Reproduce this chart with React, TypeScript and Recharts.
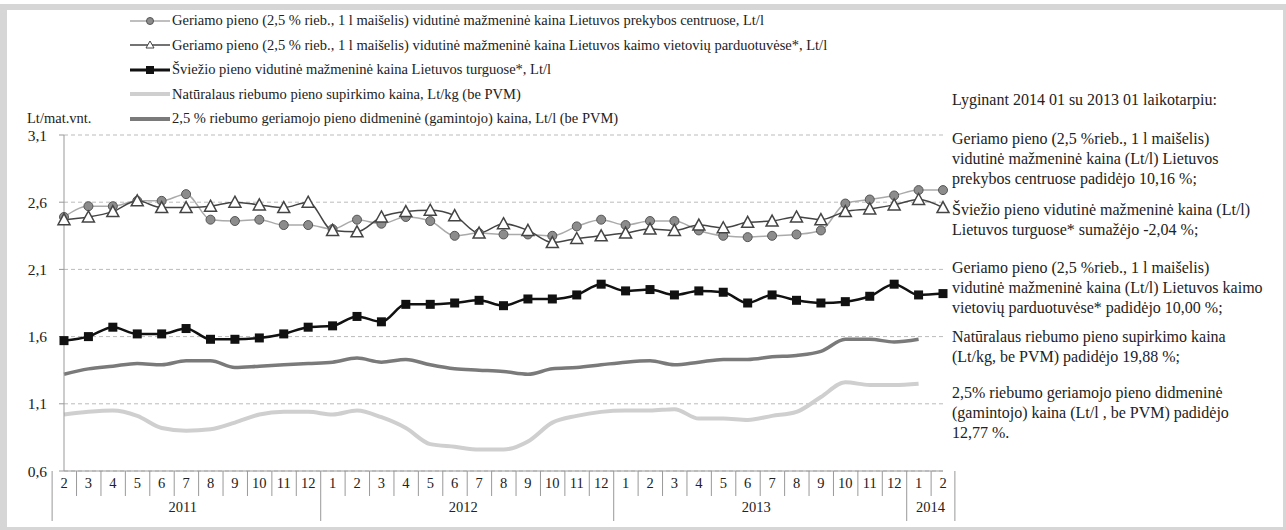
import { CartesianGrid, Line, LineChart, XAxis, YAxis } from "recharts";

// months 2011-02 .. 2014-02
const MONTHS = [2, 3, 4, 5, 6, 7, 8, 9, 10, 11, 12, 1, 2, 3, 4, 5, 6, 7, 8, 9, 10, 11, 12, 1, 2, 3, 4, 5, 6, 7, 8, 9, 10, 11, 12, 1, 2];
const YEARS = ["2011", "2012", "2013", "2014"];
const YEAR_SPANS = [11, 12, 12, 2];

const prekybos = [2.49, 2.57, 2.57, 2.61, 2.61, 2.66, 2.47, 2.46, 2.47, 2.43, 2.43, 2.4, 2.47, 2.44, 2.49, 2.46, 2.35, 2.37, 2.36, 2.36, 2.35, 2.42, 2.47, 2.43, 2.46, 2.46, 2.39, 2.35, 2.34, 2.35, 2.36, 2.39, 2.59, 2.62, 2.65, 2.69, 2.69];
const kaimo = [2.47, 2.49, 2.53, 2.61, 2.56, 2.56, 2.57, 2.6, 2.58, 2.56, 2.6, 2.39, 2.38, 2.49, 2.53, 2.54, 2.5, 2.37, 2.44, 2.39, 2.3, 2.33, 2.35, 2.37, 2.4, 2.39, 2.43, 2.41, 2.45, 2.46, 2.49, 2.47, 2.53, 2.55, 2.58, 2.62, 2.56];
const turgus = [1.57, 1.6, 1.67, 1.62, 1.62, 1.66, 1.58, 1.58, 1.59, 1.62, 1.67, 1.68, 1.75, 1.71, 1.84, 1.84, 1.85, 1.87, 1.83, 1.88, 1.88, 1.91, 1.99, 1.94, 1.95, 1.91, 1.94, 1.93, 1.85, 1.91, 1.87, 1.85, 1.86, 1.9, 1.99, 1.91, 1.92];
const supirkimo = [1.02, 1.04, 1.05, 1.01, 0.92, 0.9, 0.91, 0.96, 1.02, 1.04, 1.04, 1.02, 1.05, 1.0, 0.92, 0.8, 0.78, 0.76, 0.76, 0.82, 0.96, 1.01, 1.04, 1.05, 1.05, 1.06, 0.99, 0.99, 0.98, 1.01, 1.04, 1.15, 1.26, 1.24, 1.24, 1.25, null];
const didmenine = [1.32, 1.36, 1.38, 1.4, 1.39, 1.42, 1.42, 1.37, 1.38, 1.39, 1.4, 1.41, 1.44, 1.41, 1.43, 1.39, 1.36, 1.35, 1.34, 1.32, 1.36, 1.37, 1.39, 1.41, 1.42, 1.39, 1.41, 1.43, 1.43, 1.45, 1.46, 1.49, 1.58, 1.58, 1.56, 1.58, null];

const Y_TICKS = [0.6, 1.1, 1.6, 2.1, 2.6, 3.1];

const LEGEND = [
  "Geriamo pieno (2,5 % rieb., 1 l maišelis) vidutinė mažmeninė kaina Lietuvos prekybos centruose, Lt/l",
  "Geriamo pieno (2,5 % rieb., 1 l maišelis) vidutinė mažmeninė kaina Lietuvos kaimo vietovių parduotuvėse*, Lt/l",
  "Šviežio pieno vidutinė mažmeninė kaina Lietuvos turguose*, Lt/l",
  "Natūralaus riebumo pieno supirkimo kaina, Lt/kg (be PVM)",
  "2,5 % riebumo geriamojo pieno didmeninė (gamintojo) kaina, Lt/l (be PVM)",
];

const NOTES = [
  ["Lyginant 2014 01 su 2013 01 laikotarpiu:"],
  ["Geriamo pieno (2,5 %rieb., 1 l maišelis)", "vidutinė mažmeninė kaina (Lt/l) Lietuvos", "prekybos centruose padidėjo 10,16 %;"],
  ["Šviežio pieno vidutinė mažmeninė kaina  (Lt/l)", "Lietuvos turguose* sumažėjo -2,04 %;"],
  ["Geriamo pieno (2,5 %rieb., 1 l maišelis)", "vidutinė mažmeninė kaina (Lt/l) Lietuvos kaimo", "vietovių parduotuvėse* padidėjo 10,00 %;"],
  ["Natūralaus riebumo pieno supirkimo kaina", "(Lt/kg, be PVM) padidėjo 19,88  %;"],
  ["2,5% riebumo geriamojo pieno didmeninė", "(gamintojo) kaina (Lt/l , be PVM) padidėjo", "12,77 %."],
];
const NOTE_TOPS = [100, 139, 210, 268, 337, 393];

const data = MONTHS.map((m, i) => ({
  key: `${i}-${m}`,
  month: m,
  prekybos: prekybos[i],
  kaimo: kaimo[i],
  turgus: turgus[i],
  supirkimo: supirkimo[i],
  didmenine: didmenine[i],
}));

const FONT = '"Liberation Serif", "Times New Roman", serif';
const PLOT_LEFT = 64;
const PLOT_RIGHT = 943;
const PLOT_BOTTOM = 471;
const BAND = (PLOT_RIGHT - PLOT_LEFT) / MONTHS.length;

const yearStarts: Record<number, number> = {};
{
  let s = 0;
  YEAR_SPANS.forEach((n, k) => {
    yearStarts[s] = k;
    s += n;
  });
}

function MonthTick(props: any) {
  const { x, payload } = props;
  const i = payload.index ?? props.index;
  const k = yearStarts[i];
  const isYearStart = k !== undefined;
  const left = x - BAND / 2;
  return (
    <g>
      <line x1={left} x2={left} y1={PLOT_BOTTOM} y2={isYearStart ? 521 : 496} stroke="#999" />
      {i === MONTHS.length - 1 && (
        <line x1={x + BAND / 2} x2={x + BAND / 2} y1={PLOT_BOTTOM} y2={521} stroke="#999" />
      )}
      <text x={x} y={485} textAnchor="middle" dominantBaseline="middle" fontSize={14.5} fill="#222" fontFamily={FONT}>
        {MONTHS[i]}
      </text>
      {isYearStart && (
        <text
          x={x + ((YEAR_SPANS[k] - 1) / 2) * BAND}
          y={509}
          textAnchor="middle"
          dominantBaseline="middle"
          fontSize={14.5}
          fill="#222"
          fontFamily={FONT}
        >
          {YEARS[k]}
        </text>
      )}
    </g>
  );
}

const circleDot = (p: any) =>
  p.cy == null ? <g key={p.index} /> : <circle key={p.index} cx={p.cx} cy={p.cy} r={4.5} fill="#8c8c8c" stroke="#555" strokeWidth={1} />;

const triangleDot = (p: any) =>
  p.cy == null ? (
    <g key={p.index} />
  ) : (
    <path
      key={p.index}
      d={`M${p.cx},${p.cy - 6} L${p.cx + 6},${p.cy + 5} L${p.cx - 6},${p.cy + 5} Z`}
      fill="#fff"
      stroke="#444"
      strokeWidth={1.5}
    />
  );

const squareDot = (p: any) =>
  p.cy == null ? <g key={p.index} /> : <rect key={p.index} x={p.cx - 4.5} y={p.cy - 4.5} width={9} height={9} fill="#111" />;

function LegendMarker({ i }: { i: number }) {
  const mid = 6;
  const styles = [
    { stroke: "#aaa", w: 1.5 },
    { stroke: "#444", w: 1.5 },
    { stroke: "#111", w: 3 },
    { stroke: "#cfcfcf", w: 4 },
    { stroke: "#7a7a7a", w: 4 },
  ];
  const s = styles[i];
  return (
    <svg width={40} height={12} style={{ display: "block" }}>
      <line x1={0} x2={40} y1={mid} y2={mid} stroke={s.stroke} strokeWidth={s.w} />
      {i === 0 && <circle cx={20} cy={mid} r={3.5} fill="#8c8c8c" stroke="#555" />}
      {i === 1 && <path d={`M20,${mid - 4} L24,${mid + 3} L16,${mid + 3} Z`} fill="#fff" stroke="#444" />}
      {i === 2 && <rect x={16} y={mid - 4} width={8} height={8} fill="#111" />}
    </svg>
  );
}

export default function App() {
  return (
    <div style={{ position: "absolute", left: 0, top: 0, width: 1286, height: 530, background: "#fff", fontFamily: FONT, color: "#222" }}>
      <div style={{ position: "absolute", left: 0, top: 4, width: 1286, height: 526, background: "#d6d6d6" }} />
      <div style={{ position: "absolute", left: 7, top: 10, width: 1276, height: 517, background: "#fff" }} />

      <div style={{ position: "absolute", left: 0, top: 0 }}>
        <LineChart width={960} height={530} data={data} margin={{ top: 135, right: 17, bottom: 9, left: 14 }}>
          <CartesianGrid horizontal vertical={false} stroke="#bbb" strokeDasharray="4 3" />
          <XAxis
            dataKey="key"
            interval={0}
            tickLine={false}
            axisLine={{ stroke: "#999" }}
            height={50}
            tick={<MonthTick />}
          />
          <YAxis
            domain={[0.6, 3.1]}
            ticks={Y_TICKS}
            width={50}
            axisLine={{ stroke: "#999" }}
            tickLine={{ stroke: "#999" }}
            tickSize={5}
            tickMargin={12}
            tickFormatter={(v: number) => v.toFixed(1).replace(".", ",")}
            tick={{ fontSize: 15.5, fill: "#222", fontFamily: FONT }}
          />
          <Line type="monotone" dataKey="supirkimo" stroke="#cfcfcf" strokeWidth={4} dot={false} isAnimationActive={false} />
          <Line type="monotone" dataKey="didmenine" stroke="#7a7a7a" strokeWidth={3.5} dot={false} isAnimationActive={false} />
          <Line type="monotone" dataKey="prekybos" stroke="#aaa" strokeWidth={1.5} dot={circleDot} isAnimationActive={false} />
          <Line type="monotone" dataKey="kaimo" stroke="#444" strokeWidth={1.5} dot={triangleDot} isAnimationActive={false} />
          <Line type="monotone" dataKey="turgus" stroke="#111" strokeWidth={2.5} dot={squareDot} isAnimationActive={false} />
        </LineChart>
      </div>

      <div style={{ position: "absolute", left: 27, top: 110, fontSize: 14.5 }}>Lt/mat.vnt.</div>

      {LEGEND.map((t, i) => (
        <div
          key={i}
          style={{ position: "absolute", left: 130, top: 12 + i * 24.5, display: "flex", alignItems: "center", fontSize: 14.5, whiteSpace: "nowrap" }}
        >
          <LegendMarker i={i} />
          <span style={{ marginLeft: 2 }}>{t}</span>
        </div>
      ))}

      {NOTES.map((lines, p) => (
        <div key={p} style={{ position: "absolute", left: 952, top: NOTE_TOPS[p] - 10, fontSize: 16, lineHeight: "20px", whiteSpace: "nowrap" }}>
          {lines.map((l, j) => (
            <div key={j}>{l}</div>
          ))}
        </div>
      ))}
    </div>
  );
}
